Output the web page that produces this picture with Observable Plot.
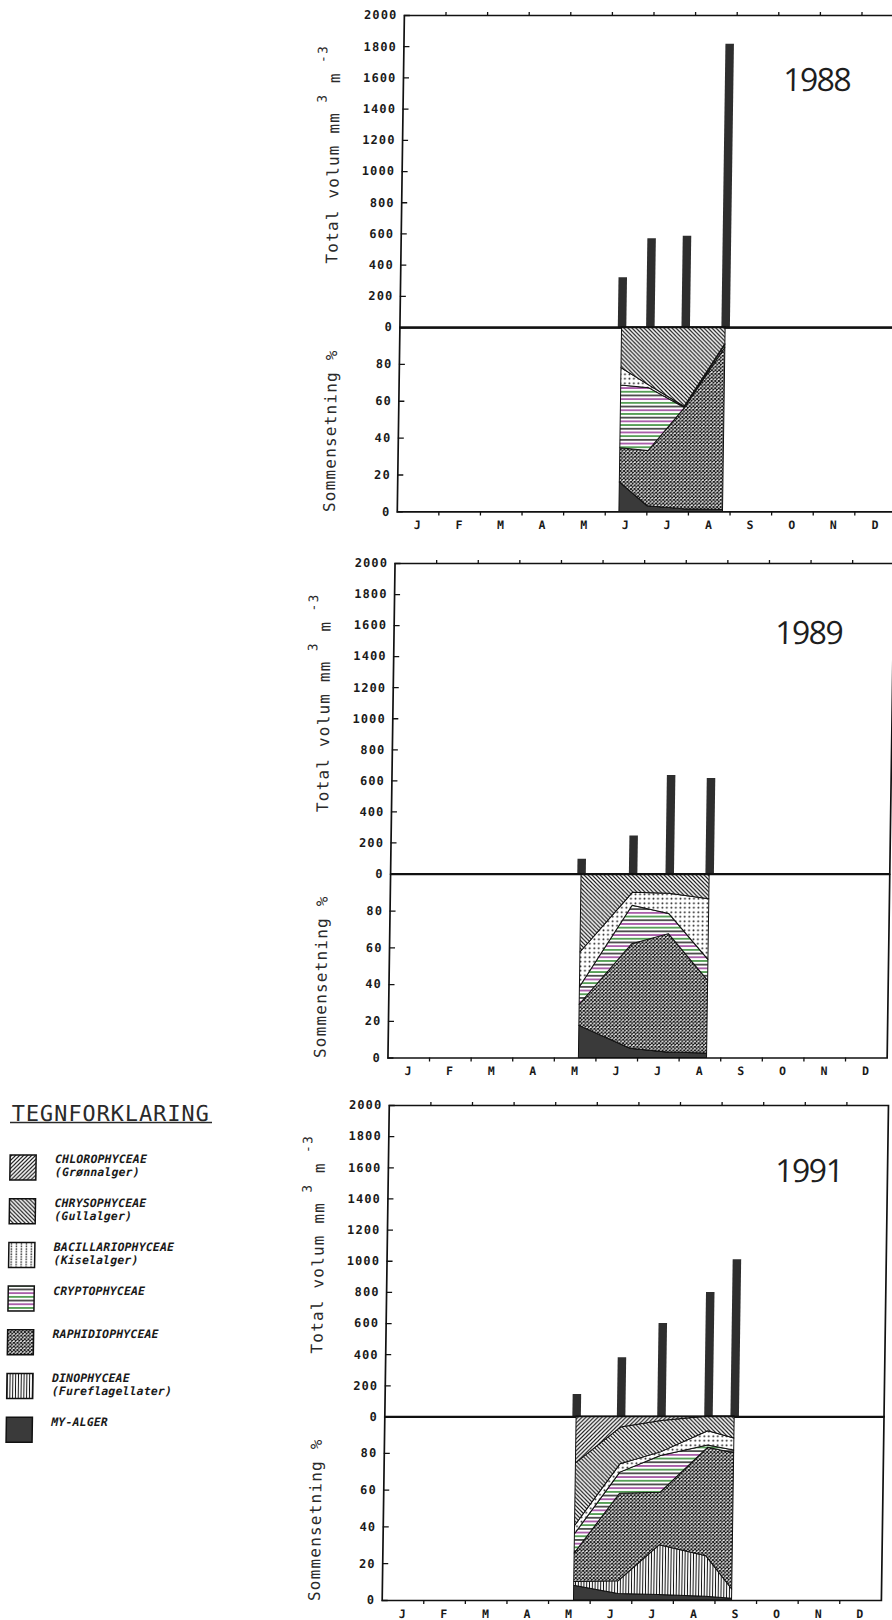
<!DOCTYPE html>
<html><head><meta charset="utf-8">
<script src="https://cdn.jsdelivr.net/npm/d3@7"></script>
<script src="https://cdn.jsdelivr.net/npm/@observablehq/plot@0.6"></script>
<style>
html,body{margin:0;padding:0;background:#fff;overflow:hidden;}
body{width:892px;height:1620px;position:relative;}
#page{position:absolute;left:0;top:0;width:892px;height:1620px;transform:skewX(-0.82deg);transform-origin:446px 810px;}
.abs{position:absolute;left:0;width:910px;}
.abs svg{max-width:none !important;overflow:visible;}
.vol text,.pct text{letter-spacing:1.1px;}
#overlay{position:absolute;left:0;top:0;pointer-events:none;overflow:visible;}
.atitle{font-family:'DejaVu Sans Mono',monospace;font-size:16px;letter-spacing:1.2px;fill:#2a2a2a;}
.year{font-family:'Open Sans',sans-serif;font-size:32px;letter-spacing:-1.5px;fill:#1e1e1e;}
.legtitle{font-family:'DejaVu Sans Mono',monospace;font-size:22px;letter-spacing:0.9px;fill:#2a2a2a;}
.legtext{font-family:'DejaVu Sans Mono',monospace;font-size:11.5px;font-weight:bold;font-style:italic;letter-spacing:0.15px;fill:#1a1a1a;}
</style></head><body>
<svg width="0" height="0" style="position:absolute;left:0;top:0">
<defs>
<pattern id="p-chloro" patternUnits="userSpaceOnUse" width="4" height="4">
<rect width="4" height="4" fill="#fff"/>
<path d="M-1,1 L1,-1 M0,4 L4,0 M3,5 L5,3" stroke="#111" stroke-width="1.2"/>
</pattern>
<pattern id="p-chryso" patternUnits="userSpaceOnUse" width="4" height="4">
<rect width="4" height="4" fill="#fff"/>
<path d="M-1,3 L1,5 M0,0 L4,4 M3,-1 L5,1" stroke="#111" stroke-width="1.2"/>
</pattern>
<pattern id="p-bacil" patternUnits="userSpaceOnUse" width="4.5" height="4.5">
<rect width="4.5" height="4.5" fill="#fff"/>
<circle cx="2.25" cy="2.25" r="0.95" fill="#111"/>
</pattern>
<pattern id="p-bacil-leg" patternUnits="userSpaceOnUse" width="5" height="2.6">
<rect width="5" height="2.6" fill="#fff"/>
<rect x="2" y="0.3" width="1.2" height="1.6" fill="#111"/>
</pattern>
<pattern id="p-crypto" patternUnits="userSpaceOnUse" width="8" height="11.1">
<rect width="8" height="11.1" fill="#fff"/>
<path d="M0,1.85 H8" stroke="#141414" stroke-width="1.4"/>
<path d="M0,5.55 H8" stroke="#8e2a8e" stroke-width="1.4"/>
<path d="M0,9.25 H8" stroke="#1f7f1f" stroke-width="1.4"/>
</pattern>
<pattern id="p-raph" patternUnits="userSpaceOnUse" width="3.6" height="3.6">
<rect width="3.6" height="3.6" fill="#fff"/>
<path d="M0,0 L3.6,3.6 M3.6,0 L0,3.6" stroke="#111" stroke-width="1.1"/>
</pattern>
<pattern id="p-dino" patternUnits="userSpaceOnUse" width="2.8" height="4">
<rect width="2.8" height="4" fill="#fff"/>
<path d="M1.4,0 V4" stroke="#111" stroke-width="1"/>
</pattern>
</defs>
</svg>
<div id="page"><div id="root"></div></div>
<script>
// ---------- data ----------
const monthLetters = ["J","F","M","A","M","J","J","A","S","O","N","D"];
const volumeTicks = [0,200,400,600,800,1000,1200,1400,1600,1800,2000];
const percentTicks = [0,20,40,60,80];
// stacking order, bottom to top
const classOrder = ["MY-ALGER","DINOPHYCEAE","RAPHIDIOPHYCEAE","CRYPTOPHYCEAE","BACILLARIOPHYCEAE","CHRYSOPHYCEAE","CHLOROPHYCEAE"];
const legendNames = ["CHLOROPHYCEAE","CHRYSOPHYCEAE","BACILLARIOPHYCEAE","CRYPTOPHYCEAE","RAPHIDIOPHYCEAE","DINOPHYCEAE","MY-ALGER"];
const legendNotes = ["(Grønnalger)","(Gullalger)","(Kiselalger)","","","(Fureflagellater)",""];

// sampling dates as fractional months (0 = 1 Jan, 12 = 31 Dec)
const dates1988 = [5.34, 6.02, 6.87, 7.83];
const volume1988 = [320, 570, 585, 1815];
const my1988 = [16, 3, 1.5, 1];
const dino1988 = [0, 0, 0, 0];
const raph1988 = [18.5, 30, 54.5, 88];
const crypto1988 = [34, 34, 0.5, 1.5];
const bacil1988 = [9.5, 1.5, 0.5, 0.5];
const chryso1988 = [22, 31.5, 43, 9];
const chloro1988 = [0, 0, 0, 0];

const dates1989 = [4.59, 5.83, 6.71, 7.67];
const volume1989 = [95, 245, 635, 615];
const my1989 = [17.5, 5, 3, 2.5];
const dino1989 = [0, 0, 0, 0];
const raph1989 = [11.5, 57, 64.5, 39.5];
const crypto1989 = [9.5, 21, 11, 11.5];
const bacil1989 = [19, 7, 11, 33];
const chryso1989 = [42.5, 10, 10.5, 13.5];
const chloro1989 = [0, 0, 0, 0];

const dates1991 = [4.61, 5.68, 6.65, 7.78, 8.41];
const volume1991 = [145, 380, 600, 800, 1010];
const my1991 = [8, 3.5, 3, 2, 1];
const dino1991 = [2, 7, 27, 22, 5];
const raph1991 = [15.5, 47.5, 28.5, 59, 74];
const crypto1991 = [10.5, 11.5, 20, 1.3, 1.5];
const bacil1991 = [4.5, 4.5, 2, 7.7, 6.5];
const chryso1991 = [34, 20, 17, 8, 12];
const chloro1991 = [25.5, 6, 2.5, 0, 0];

// ---------- styling ----------
const fills = {
  "MY-ALGER": "#3a3a3a",
  "DINOPHYCEAE": "url(#p-dino)",
  "RAPHIDIOPHYCEAE": "url(#p-raph)",
  "CRYPTOPHYCEAE": "url(#p-crypto)",
  "BACILLARIOPHYCEAE": "url(#p-bacil)",
  "CHRYSOPHYCEAE": "url(#p-chryso)",
  "CHLOROPHYCEAE": "url(#p-chloro)"
};
const legendFills = Object.assign({}, fills, {"BACILLARIOPHYCEAE": "url(#p-bacil-leg)"});

function series(my, dino, raph, crypto, bacil, chryso, chloro) {
  return {"MY-ALGER": my, "DINOPHYCEAE": dino, "RAPHIDIOPHYCEAE": raph, "CRYPTOPHYCEAE": crypto,
          "BACILLARIOPHYCEAE": bacil, "CHRYSOPHYCEAE": chryso, "CHLOROPHYCEAE": chloro};
}

// the scanned page is slightly sheared; layout is built upright and the page is sheared back
const shearK = Math.tan(0.82 * Math.PI / 180), shearY0 = 810;
const unshearX = (x, y) => x + shearK * (y - shearY0);

const panels = [
  {year: "1988", dates: dates1988, volume: volume1988,
   comp: series(my1988, dino1988, raph1988, crypto1988, bacil1988, chryso1988, chloro1988),
   left: 392.5, top: 14.5, zero: 326.6, bottom: 511, yearX: unshearX(783, 91), yearY: 91},
  {year: "1989", dates: dates1989, volume: volume1989,
   comp: series(my1989, dino1989, raph1989, crypto1989, bacil1989, chryso1989, chloro1989),
   left: 391, top: 563, zero: 873.5, bottom: 1057, yearX: unshearX(775, 644.5), yearY: 644.5},
  {year: "1991", dates: dates1991, volume: volume1991,
   comp: series(my1991, dino1991, raph1991, crypto1991, bacil1991, chryso1991, chloro1991),
   left: 393, top: 1104.5, zero: 1416, bottom: 1600, yearX: unshearX(775, 1182), yearY: 1182}
];

const W = 910, monthW = 41.6;
const root = document.getElementById("root");
const plotStyle = {background: "transparent", color: "#1a1a1a",
  fontFamily: "'DejaVu Sans Mono', monospace", fontSize: "12px", fontWeight: "bold"};
const monthBounds = d3.range(1, 12);
const monthCenters = d3.range(12).map(i => i + 0.5);
const plain = d => String(d);

function place(svg, top) {
  const d = document.createElement("div");
  d.className = "abs";
  d.style.top = top + "px";
  d.appendChild(svg);
  root.appendChild(d);
}

panels.forEach(p => {
  const right = p.left + monthW * 12;
  const mt = 10;
  const bars = p.dates.map((m, i) => ({m, v: p.volume[i]}));
  const topPlot = Plot.plot({
    width: W, height: (p.zero - p.top) + mt,
    marginLeft: p.left, marginRight: W - right, marginTop: mt, marginBottom: 0,
    className: "vol",
    style: plotStyle,
    x: {domain: [0, 12], label: null},
    y: {domain: [0, 2000], label: null},
    marks: [
      Plot.ruleX(bars, {x: "m", y1: 0, y2: "v", stroke: "#2e2e2e", strokeWidth: 8.5}),
      Plot.frame({stroke: "#111", strokeWidth: 1.7}),
      Plot.ruleY([0], {stroke: "#111", strokeWidth: 2.2}),
      Plot.axisY({ticks: volumeTicks, tickSize: 0, tickPadding: 7, tickFormat: plain, label: null}),
      Plot.axisY({ticks: volumeTicks, tickSize: 6, dx: 6, tickFormat: () => "", label: null, stroke: "#111", strokeWidth: 1.3}),
      Plot.axisX({anchor: "top", ticks: monthBounds, tickSize: 4, tickFormat: () => "", label: null, stroke: "#111", strokeWidth: 1.3})
    ]
  });
  place(topPlot, p.top - mt);

  const table = [];
  p.dates.forEach((m, i) => classOrder.forEach(c => table.push({m, cls: c, pct: p.comp[c][i]})));
  const mb = 30;
  const botPlot = Plot.plot({
    width: W, height: (p.bottom - p.zero) + mb,
    marginLeft: p.left, marginRight: W - right, marginTop: 0, marginBottom: mb,
    className: "pct",
    style: plotStyle,
    x: {domain: [0, 12], label: null},
    y: {domain: [0, 100], label: null},
    color: {type: "identity"},
    marks: [
      Plot.areaY(table, {x: "m", y: "pct", z: "cls", order: classOrder,
        fill: d => fills[d.cls], stroke: "#111", strokeWidth: 1}),
      Plot.frame({stroke: "#111", strokeWidth: 1.7}),
      Plot.axisY({ticks: percentTicks, tickSize: 0, tickPadding: 7, tickFormat: plain, label: null}),
      Plot.axisY({ticks: percentTicks, tickSize: 6, dx: 6, tickFormat: () => "", label: null, stroke: "#111", strokeWidth: 1.3}),
      Plot.axisX({ticks: monthBounds, tickSize: 4, tickFormat: () => "", label: null, stroke: "#111", strokeWidth: 1.3}),
      Plot.axisX({ticks: monthCenters, tickSize: 0, tickPadding: 9, fontSize: 11.5,
        tickFormat: d => monthLetters[Math.floor(d)], label: null})
    ]
  });
  place(botPlot, p.zero);
});

// ---------- overlay: titles, year labels, legend ----------
const ov = d3.select("#page").append("svg").attr("id", "overlay")
  .attr("width", 892).attr("height", 1620);

panels.forEach(p => {
  const t = ov.append("text").attr("class", "atitle")
    .attr("transform", `translate(${p.left - 63},${p.top + 249}) rotate(-90)`);
  t.append("tspan").text("Total volum mm");
  t.append("tspan").attr("dy", -13).attr("font-size", 13).text(" 3");
  t.append("tspan").attr("dy", 13).text(" m");
  t.append("tspan").attr("dy", -13).attr("font-size", 13).text(" -3");

  ov.append("text").attr("class", "atitle")
    .attr("transform", `translate(${p.left - 62},${p.bottom + 1}) rotate(-90)`)
    .text("Sommensetning %");

  ov.append("text").attr("class", "year").attr("x", p.yearX).attr("y", p.yearY).text(p.year);
});

const legX = unshearX(10, 1167), legTextX = unshearX(55, 1167);
ov.append("text").attr("class", "legtitle").attr("x", unshearX(11.7, 1113)).attr("y", 1121).text("TEGNFORKLARING");
ov.append("line").attr("x1", unshearX(10, 1122)).attr("x2", unshearX(212, 1122)).attr("y1", 1122.5).attr("y2", 1122.5)
  .attr("stroke", "#2a2a2a").attr("stroke-width", 1.3);

const legTop = 1155, legStep = 43.7;
legendNames.forEach((name, i) => {
  const y = legTop + i * legStep;
  ov.append("rect").attr("x", legX).attr("y", y).attr("width", 26).attr("height", 25)
    .attr("fill", legendFills[name]).attr("stroke", "#111").attr("stroke-width", 1.5);
  ov.append("text").attr("class", "legtext").attr("x", legTextX).attr("y", y + 8.5).text(name);
  if (legendNotes[i]) ov.append("text").attr("class", "legtext").attr("x", legTextX).attr("y", y + 21.5).text(legendNotes[i]);
});
</script>
</body></html>
